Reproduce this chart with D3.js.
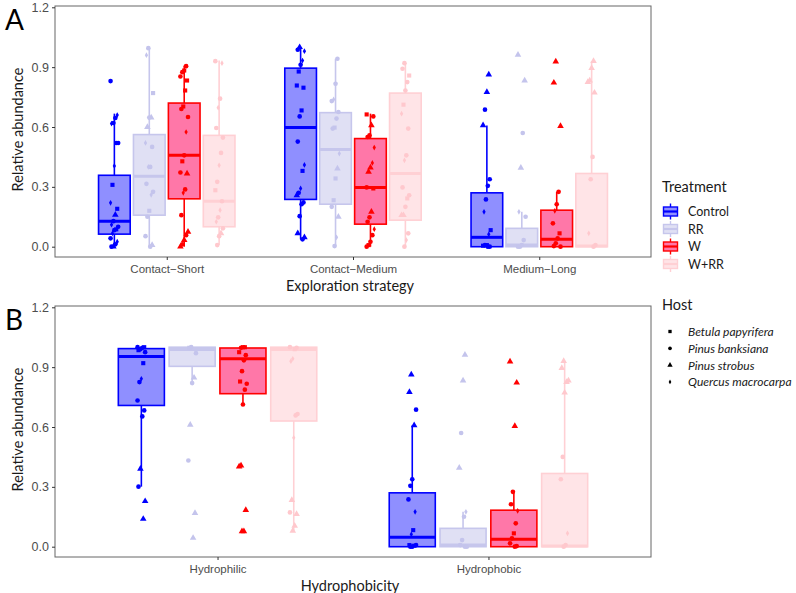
<!DOCTYPE html>
<html><head><meta charset="utf-8">
<script src="https://cdn.jsdelivr.net/npm/d3@7"></script>
<style>body{margin:0;background:#fff;} svg{display:block;font-family:Lato, "Noto Sans", sans-serif;}</style>
</head><body>
<svg id="chart" width="796" height="593"></svg>
<script>
// ---------- data ----------
const treatments = ["Control", "RR", "W", "W+RR"];
const hosts = ["Betula papyrifera", "Pinus banksiana", "Pinus strobus", "Quercus macrocarpa"];
const strategyCategories = ["Contact\u2212Short", "Contact\u2212Medium", "Medium\u2212Long"];
const hydroCategories = ["Hydrophilic", "Hydrophobic"];
const yTicks = [0.0, 0.3, 0.6, 0.9, 1.2];

// box stats per treatment: [lower whisker, q1, median, q3, upper whisker]
const boxContactShort = [[0, 0.063, 0.128, 0.358, 0.667], [0, 0.158, 0.353, 0.562, 1.0], [0, 0.24, 0.458, 0.72, 0.908], [0.008, 0.10, 0.228, 0.558, 0.933]];
const boxContactMedium = [[0.037, 0.237, 0.597, 0.895, 1.0], [0.003, 0.213, 0.487, 0.672, 0.942], [0, 0.113, 0.297, 0.542, 0.667], [0, 0.133, 0.367, 0.77, 0.925]];
const boxMediumLong = [[0, 0.0, 0.047, 0.27, 0.608], [0, 0.0, 0.008, 0.092, 0.175], [0, 0.0, 0.037, 0.183, 0.275], [0, 0.0, 0.003, 0.367, 0.93]];
const boxHydrophilic = [[0.301, 0.708, 0.954, 0.993, 1.0], [0.82, 0.904, 0.988, 1.0, 1.0], [0.713, 0.767, 0.942, 0.996, 1.0], [0.08, 0.63, 0.988, 1.0, 1.0]];
const boxHydrophobic = boxMediumLong;

// points per treatment: [relative abundance, host index]
const ptsContactShort = [
  [[0.83,1],[0.66,3],[0.645,1],[0.62,1],[0.617,3],[0.52,1],[0.52,1],[0.405,3],[0.31,0],[0.22,3],[0.19,0],[0.16,2],[0.128,1],[0.11,3],[0.10,1],[0.087,0],[0.083,1],[0.067,3],[0.042,1],[0.025,3],[0.012,1],[0,2],[0,1]],
  [[0.995,1],[0.96,3],[0.77,0],[0.647,2],[0.647,1],[0.6,2],[0.52,3],[0.5,1],[0.40,1],[0.40,3],[0.315,1],[0.275,1],[0.26,3],[0.18,0],[0.15,1],[0.053,1],[0.008,2],[0,1]],
  [[0.905,1],[0.883,0],[0.875,1],[0.853,1],[0.833,0],[0.783,0],[0.703,0],[0.69,1],[0.65,1],[0.575,3],[0.458,1],[0.428,0],[0.372,1],[0.367,2],[0.287,1],[0.27,3],[0.158,1],[0.075,2],[0.058,1],[0.033,2],[0.012,1],[0,2]],
  [[0.93,1],[0.92,3],[0.742,1],[0.697,3],[0.595,1],[0.547,1],[0.47,1],[0.408,3],[0.325,1],[0.283,0],[0.228,1],[0.183,3],[0.147,1],[0.125,3],[0.092,1],[0.067,2],[0.053,1],[0.008,1]]
];
const ptsContactMedium = [
  [[1.0,2],[0.987,1],[0.98,3],[0.933,3],[0.912,1],[0.878,0],[0.808,0],[0.797,0],[0.683,0],[0.653,1],[0.527,1],[0.41,3],[0.38,0],[0.292,3],[0.27,1],[0.258,2],[0.222,1],[0.213,1],[0.153,1],[0.067,2],[0.047,2],[0.037,1]],
  [[0.942,1],[0.817,1],[0.738,3],[0.73,1],[0.675,1],[0.642,1],[0.597,0],[0.592,1],[0.467,3],[0.392,2],[0.342,0],[0.233,0],[0.2,1],[0.15,2],[0.047,3],[0.003,1]],
  [[0.663,0],[0.653,1],[0.608,2],[0.558,1],[0.55,1],[0.497,3],[0.42,3],[0.397,2],[0.375,2],[0.297,1],[0.292,0],[0.175,2],[0.147,1],[0.125,1],[0.088,3],[0.058,1],[0.025,1],[0.008,0],[0,1]],
  [[0.92,1],[0.892,1],[0.858,0],[0.825,1],[0.783,1],[0.712,0],[0.667,3],[0.592,1],[0.458,1],[0.433,3],[0.297,1],[0.258,1],[0.242,0],[0.2,1],[0.158,2],[0.158,2],[0.067,1],[0.033,3],[0,1]]
];
const ptsMediumLong = [
  [[0.863,2],[0.775,2],[0.687,1],[0.608,2],[0.338,1],[0.305,1],[0.237,1],[0.175,3],[0.083,0],[0.062,3],[0.008,0],[0.008,1],[0.005,0],[0,1],[0,1]],
  [[0.962,2],[0.833,2],[0.57,1],[0.395,2],[0.175,3],[0.15,1],[0.033,1],[0.008,1],[0,1],[0,1]],
  [[0.928,2],[0.822,2],[0.605,2],[0.275,1],[0.213,1],[0.18,3],[0.117,1],[0.067,0],[0.042,1],[0.017,1],[0.003,1],[0,1]],
  [[0.93,2],[0.895,2],[0.833,2],[0.825,2],[0.772,2],[0.45,1],[0.338,1],[0.067,3],[0.008,1],[0,1]]
];
const ptsHydrophilic = [
  [[1.0,1],[1.0,0],[0.997,1],[0.99,1],[0.985,0],[0.975,1],[0.92,0],[0.842,3],[0.825,1],[0.733,1],[0.683,1],[0.653,1],[0.39,2],[0.301,1],[0.228,2],[0.139,2]],
  [[1.0,1],[0.997,0],[0.97,1],[0.847,2],[0.82,1],[0.611,2],[0.432,1],[0.169,2],[0.044,2]],
  [[1.0,0],[1.0,0],[0.997,1],[0.975,0],[0.96,1],[0.934,1],[0.88,1],[0.828,0],[0.817,1],[0.787,1],[0.713,1],[0.407,2],[0.402,2],[0.184,2],[0.077,2],[0.077,2]],
  [[1.0,1],[0.997,1],[0.99,0],[0.942,3],[0.93,3],[0.665,1],[0.658,1],[0.546,3],[0.234,2],[0.172,1],[0.164,2],[0.105,2],[0.08,2]]
];
const ptsHydrophobic = ptsMediumLong;

// ---------- styles ----------
const strokeCol = ["#0000FF", "#C6C6EC", "#FF0000", "#FFD0D4"];
const fillCol = ["#8F8FFF", "#E0E0F4", "#FF77A8", "#FFE4E7"];
const pointCol = ["#0000FF", "#C4C4EC", "#FF0000", "#FFC8CD"];
const textCol = "#4D4D4D";

const svg = d3.select("#chart");

function symbolPath(h, size) {
  const types = [d3.symbolSquare, d3.symbolCircle, d3.symbolTriangle, d3.symbolDiamond];
  const sizes = [size * 1.0, size * 1.0, size * 1.1, size * 0.55];
  return d3.symbol().type(types[h]).size(sizes[h])();
}

function jitter(i, g) {
  // deterministic small horizontal spread
  const k = ((i * 7 + g * 3) % 9) - 4;
  return k * 0.95;
}

function drawPanel(cfg) {
  const { top, letter, categories, boxes, points, xTitle } = cfg;
  const left = 55, right = 651, bottom = top + 251;
  const g = svg.append("g");
  // ggplot-style discrete expansion (0.6 units each side)
  const unit = (right - left) / (categories.length - 1 + 1.2);
  const xs = d3.scalePoint().domain(categories)
    .range([left + 0.6 * unit, right - 0.6 * unit]);
  const y = d3.scaleLinear().domain([0, 1.2]).range([top + 240.7, top + 1.3]);

  // panel border
  g.append("rect").attr("x", left).attr("y", top).attr("width", right - left).attr("height", bottom - top)
    .attr("fill", "none").attr("stroke", "#666").attr("stroke-width", 1);

  // y axis
  const yAxis = d3.axisLeft(y).tickValues(yTicks).tickFormat(d3.format(".1f")).tickSize(3).tickPadding(3);
  const ya = g.append("g").attr("transform", `translate(${left},0)`).call(yAxis);
  ya.select(".domain").remove();
  ya.selectAll("line").attr("stroke", "#333");
  ya.selectAll("text").attr("fill", textCol).attr("font-size", 12.5);

  // x axis
  const xAxis = d3.axisBottom(xs).tickSize(3).tickPadding(5);
  const xa = g.append("g").attr("transform", `translate(0,${bottom})`).call(xAxis);
  xa.select(".domain").remove();
  xa.selectAll("line").attr("stroke", "#333");
  xa.selectAll("text").attr("fill", textCol).attr("font-size", 11.5);

  // titles
  g.append("text").attr("x", (left + right) / 2 - 3).attr("y", bottom + 34).attr("text-anchor", "middle")
    .attr("font-size", 14.5).attr("fill", "#1a1a1a").text(xTitle);
  g.append("text").attr("transform", `translate(23,${(top + bottom) / 2 - 2}) rotate(-90)`).attr("text-anchor", "middle")
    .attr("font-size", 14.5).attr("fill", "#1a1a1a").text("Relative abundance");
  g.append("text").attr("x", 5).attr("y", top + 24).attr("font-size", 28).attr("fill", "#000").text(letter);

  const dodge = 0.1875 * unit, bw = 0.17 * unit;
  categories.forEach((c, ci) => {
    treatments.forEach((t, ti) => {
      const center = xs(c) + (ti - 1.5) * dodge;
      const [lo, q1, med, q3, hi] = boxes[ci][ti];
      const bg = g.append("g");
      bg.append("line").attr("x1", center).attr("x2", center).attr("y1", y(q3)).attr("y2", y(hi))
        .attr("stroke", strokeCol[ti]).attr("stroke-width", 1.6);
      bg.append("line").attr("x1", center).attr("x2", center).attr("y1", y(q1)).attr("y2", y(lo))
        .attr("stroke", strokeCol[ti]).attr("stroke-width", 1.6);
      bg.append("rect").attr("x", center - bw / 2).attr("width", bw).attr("y", y(q3)).attr("height", Math.max(0.5, y(q1) - y(q3)))
        .attr("fill", fillCol[ti]).attr("stroke", strokeCol[ti]).attr("stroke-width", 1.6);
      bg.append("line").attr("x1", center - bw / 2).attr("x2", center + bw / 2).attr("y1", y(med)).attr("y2", y(med))
        .attr("stroke", strokeCol[ti]).attr("stroke-width", 3);
    });
  });
  categories.forEach((c, ci) => {
    treatments.forEach((t, ti) => {
      const center = xs(c) + (ti - 1.5) * dodge;
      g.append("g").selectAll("path").data(points[ci][ti]).join("path")
        .attr("d", d => symbolPath(d[1], 17))
        .attr("transform", (d, i) => `translate(${center + jitter(i, ti + ci)},${y(d[0])})`)
        .attr("fill", pointCol[ti]);
    });
  });
}

drawPanel({ top: 6, letter: "A", categories: strategyCategories,
  boxes: [boxContactShort, boxContactMedium, boxMediumLong],
  points: [ptsContactShort, ptsContactMedium, ptsMediumLong], xTitle: "Exploration strategy" });
drawPanel({ top: 306, letter: "B", categories: hydroCategories,
  boxes: [boxHydrophilic, boxHydrophobic],
  points: [ptsHydrophilic, ptsHydrophobic], xTitle: "Hydrophobicity" });

// ---------- legends ----------
const lg = svg.append("g");
lg.append("text").attr("x", 662).attr("y", 192).attr("font-size", 14.5).attr("fill", "#1a1a1a").text("Treatment");
treatments.forEach((t, i) => {
  const cy = 211.5 + i * 17.5;
  const kx = 670.5;
  lg.append("line").attr("x1", kx).attr("x2", kx).attr("y1", cy - 8).attr("y2", cy + 8).attr("stroke", strokeCol[i]).attr("stroke-width", 1.4);
  lg.append("rect").attr("x", kx - 7).attr("y", cy - 4.5).attr("width", 14).attr("height", 9)
    .attr("fill", fillCol[i]).attr("stroke", strokeCol[i]).attr("stroke-width", 1.4);
  lg.append("line").attr("x1", kx - 7).attr("x2", kx + 7).attr("y1", cy).attr("y2", cy).attr("stroke", strokeCol[i]).attr("stroke-width", 2.2);
  lg.append("text").attr("x", 688).attr("y", cy + 4.5).attr("font-size", 12.5).attr("fill", "#1a1a1a").text(t);
});
lg.append("text").attr("x", 662).attr("y", 310).attr("font-size", 14.5).attr("fill", "#1a1a1a").text("Host");
hosts.forEach((h, i) => {
  const cy = 331.5 + i * 16.8;
  lg.append("path").attr("d", symbolPath(i, 11)).attr("transform", `translate(670,${cy})`).attr("fill", "#000");
  lg.append("text").attr("x", 688).attr("y", cy + 4.5).attr("font-size", 12).attr("font-style", "italic").attr("fill", "#1a1a1a").text(h);
});
</script>
</body></html>
